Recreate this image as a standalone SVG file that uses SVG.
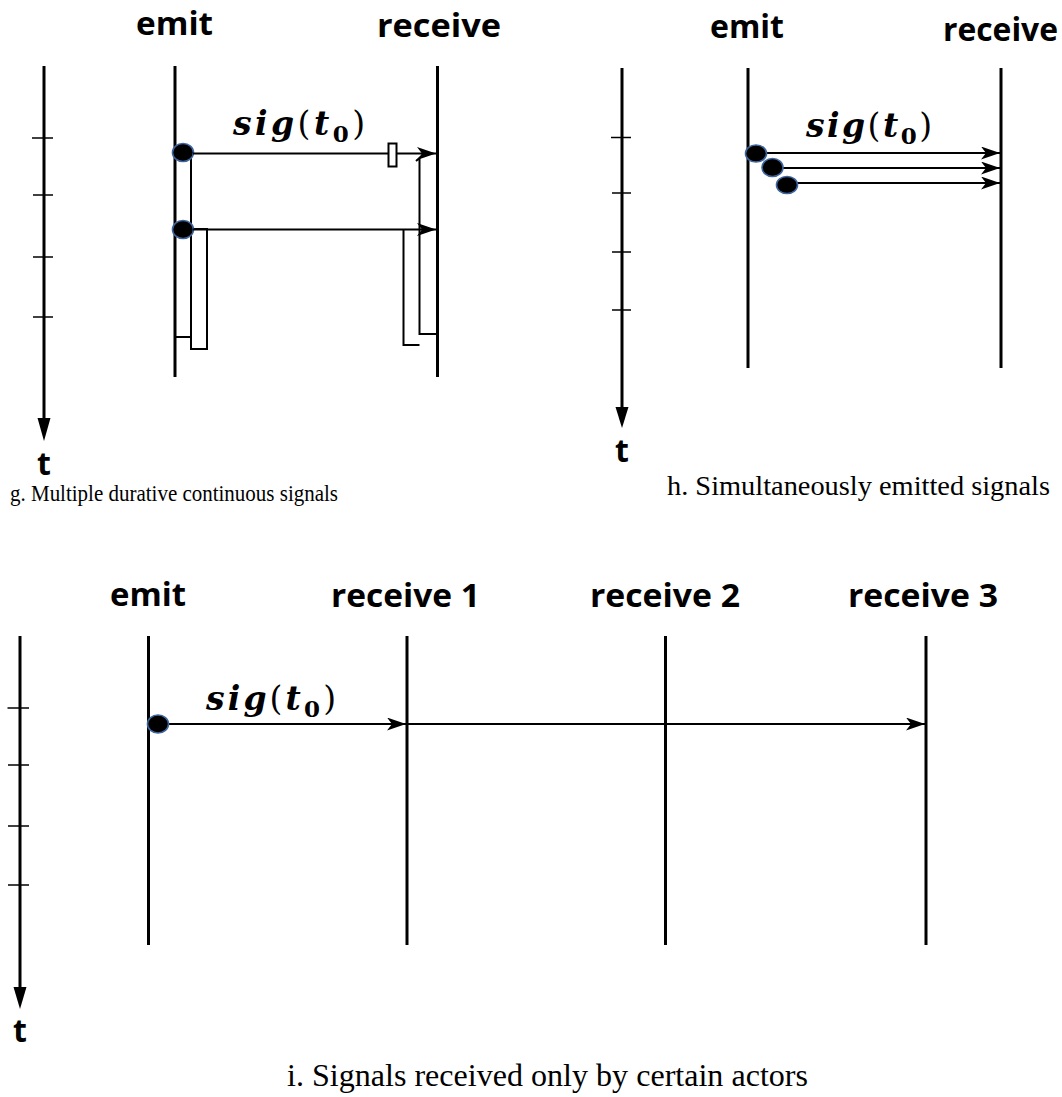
<svg xmlns="http://www.w3.org/2000/svg" width="1062" height="1097" viewBox="0 0 1062 1097">
<style>
.bg{fill:#fff}
.life{stroke:#000;stroke-width:3;fill:none}
.axis{stroke:#000;stroke-width:3;fill:none}
.tick{stroke:#000;stroke-width:1.5}
.sig{stroke:#000;stroke-width:2;fill:none}
.bar{stroke:#000;stroke-width:2;fill:none}
.dot{fill:#000;stroke:#3f659e;stroke-width:1.6}
.lbl{font-family:"Open Sans","DejaVu Sans",sans-serif;font-weight:700;font-size:32px;fill:#000}
.tl{font-family:"Open Sans","DejaVu Sans",sans-serif;font-weight:700;font-size:32px;fill:#000;text-anchor:middle}
.math{font-family:"DejaVu Serif","Liberation Serif",serif;font-size:33px;fill:#000}
.bi{font-style:italic;font-weight:700}
.up{font-style:normal;font-weight:400}
.sub{font-style:normal;font-weight:700;font-size:23px}
.cap{font-family:"Liberation Serif","Times New Roman",serif;fill:#000}
</style>
<defs>
<marker id="arr" viewBox="0 -6.5 19 13" refX="19" refY="0" markerWidth="19" markerHeight="13" markerUnits="userSpaceOnUse" orient="auto">
<path d="M0,-6.5 L19,0 L0,6.5 L5,0 Z" fill="#000"/>
</marker>
</defs>
<rect class="bg" x="0" y="0" width="1062" height="1097"/>

<!-- Panel g -->
<g id="g-axis">
<line class="axis" x1="44" y1="66" x2="44" y2="420"/>
<polygon points="37.5,418 50.5,418 44,441" fill="#000"/>
<line class="tick" x1="32" y1="138" x2="53" y2="138"/>
<line class="tick" x1="33" y1="195" x2="53" y2="195"/>
<line class="tick" x1="33" y1="257" x2="53" y2="257"/>
<line class="tick" x1="33" y1="317" x2="53" y2="317"/>
<text class="tl" x="44" y="475">t</text>
</g>
<g id="g-emit">
<text class="lbl" x="136" y="35" textLength="77" lengthAdjust="spacingAndGlyphs">emit</text>
<line class="life" x1="175" y1="66" x2="175" y2="377"/>
<polyline class="bar" points="191,153 191,337 175,337"/>
<rect class="bar" x="191" y="229" width="16" height="120"/>
<ellipse class="dot" cx="183" cy="152.5" rx="10.5" ry="9"/>
<ellipse class="dot" cx="183" cy="229.5" rx="10.5" ry="9"/>
</g>
<g id="g-receive">
<text class="lbl" x="377" y="37" textLength="124" lengthAdjust="spacingAndGlyphs">receive</text>
<line class="life" x1="437.5" y1="66" x2="437.5" y2="377"/>
<polyline class="bar" points="416,161 419.5,158 419.5,334 437,334"/>
<polyline class="bar" points="419.5,345 403.5,345 403.5,230"/>
</g>
<g id="g-connectors">
<line class="sig" x1="193" y1="153.5" x2="436" y2="153.5" marker-end="url(#arr)"/>
<rect x="388.5" y="143.5" width="8" height="23" fill="#fff" stroke="#000" stroke-width="2"/>
<line class="sig" x1="193" y1="229.5" x2="436" y2="229.5" marker-end="url(#arr)"/>
<text class="math" x="233" y="135" textLength="132"><tspan class="bi">sig</tspan><tspan class="up">(</tspan><tspan class="bi">t</tspan><tspan class="sub" dy="7">0</tspan><tspan class="up" dy="-7">)</tspan></text>
</g>
<text class="cap" x="10" y="501" font-size="24" textLength="328" lengthAdjust="spacingAndGlyphs">g. Multiple durative continuous signals</text>

<!-- Panel h -->
<g id="h-axis">
<line class="axis" x1="622" y1="68" x2="622" y2="409"/>
<polygon points="615.5,407 628.5,407 622,428" fill="#000"/>
<line class="tick" x1="611" y1="137.5" x2="631" y2="137.5"/>
<line class="tick" x1="612" y1="193" x2="631" y2="193"/>
<line class="tick" x1="612" y1="252" x2="631" y2="252"/>
<line class="tick" x1="612" y1="310" x2="631" y2="310"/>
<text class="tl" x="622" y="462">t</text>
</g>
<g id="h-emit">
<text class="lbl" x="710" y="38" textLength="74" lengthAdjust="spacingAndGlyphs">emit</text>
<line class="life" x1="748" y1="68" x2="748" y2="368"/>
</g>
<g id="h-receive">
<text class="lbl" x="943" y="41" textLength="115" lengthAdjust="spacingAndGlyphs">receive</text>
<line class="life" x1="1001" y1="68" x2="1001" y2="368"/>
</g>
<g id="h-connectors">
<line class="sig" x1="766" y1="153" x2="1000" y2="153" marker-end="url(#arr)"/>
<line class="sig" x1="782" y1="168" x2="1000" y2="168" marker-end="url(#arr)"/>
<line class="sig" x1="797" y1="183" x2="1000" y2="183" marker-end="url(#arr)"/>
<ellipse class="dot" cx="756" cy="153.5" rx="10.5" ry="8.5"/>
<ellipse class="dot" cx="772.5" cy="167.5" rx="10.5" ry="9"/>
<ellipse class="dot" cx="787" cy="185" rx="10.5" ry="8.5"/>
<text class="math" x="806" y="137" textLength="126"><tspan class="bi">sig</tspan><tspan class="up">(</tspan><tspan class="bi">t</tspan><tspan class="sub" dy="7">0</tspan><tspan class="up" dy="-7">)</tspan></text>
</g>
<text class="cap" x="667" y="495" font-size="27" textLength="383" lengthAdjust="spacingAndGlyphs">h. Simultaneously emitted signals</text>

<!-- Panel i -->
<g id="i-axis">
<line class="axis" x1="20" y1="636" x2="20" y2="989"/>
<polygon points="13.5,987 26.5,987 20,1009" fill="#000"/>
<line class="tick" x1="7.5" y1="708" x2="29" y2="708"/>
<line class="tick" x1="8" y1="765" x2="29" y2="765"/>
<line class="tick" x1="8" y1="826" x2="29" y2="826"/>
<line class="tick" x1="8" y1="885" x2="29" y2="885"/>
<text class="tl" x="20" y="1042">t</text>
</g>
<g id="i-emit">
<text class="lbl" x="110" y="606" textLength="76" lengthAdjust="spacingAndGlyphs">emit</text>
<line class="life" x1="148.5" y1="636" x2="148.5" y2="945"/>
</g>
<g id="i-receive1">
<text class="lbl" x="331" y="607" textLength="149" lengthAdjust="spacingAndGlyphs">receive 1</text>
<line class="life" x1="407" y1="636" x2="407" y2="945"/>
</g>
<g id="i-receive2">
<text class="lbl" x="590" y="607" textLength="150" lengthAdjust="spacingAndGlyphs">receive 2</text>
<line class="life" x1="665.5" y1="636" x2="665.5" y2="945"/>
</g>
<g id="i-receive3">
<text class="lbl" x="848" y="607" textLength="150" lengthAdjust="spacingAndGlyphs">receive 3</text>
<line class="life" x1="926" y1="636" x2="926" y2="945"/>
</g>
<g id="i-connectors">
<line class="sig" x1="166" y1="724" x2="406" y2="724" marker-end="url(#arr)"/>
<line class="sig" x1="407" y1="724" x2="925" y2="724" marker-end="url(#arr)"/>
<ellipse class="dot" cx="158" cy="724" rx="10.5" ry="9"/>
<text class="math" x="206" y="710" textLength="130"><tspan class="bi">sig</tspan><tspan class="up">(</tspan><tspan class="bi">t</tspan><tspan class="sub" dy="7">0</tspan><tspan class="up" dy="-7">)</tspan></text>
</g>
<text class="cap" x="287" y="1086" font-size="32" textLength="521" lengthAdjust="spacingAndGlyphs">i. Signals received only by certain actors</text>
</svg>
